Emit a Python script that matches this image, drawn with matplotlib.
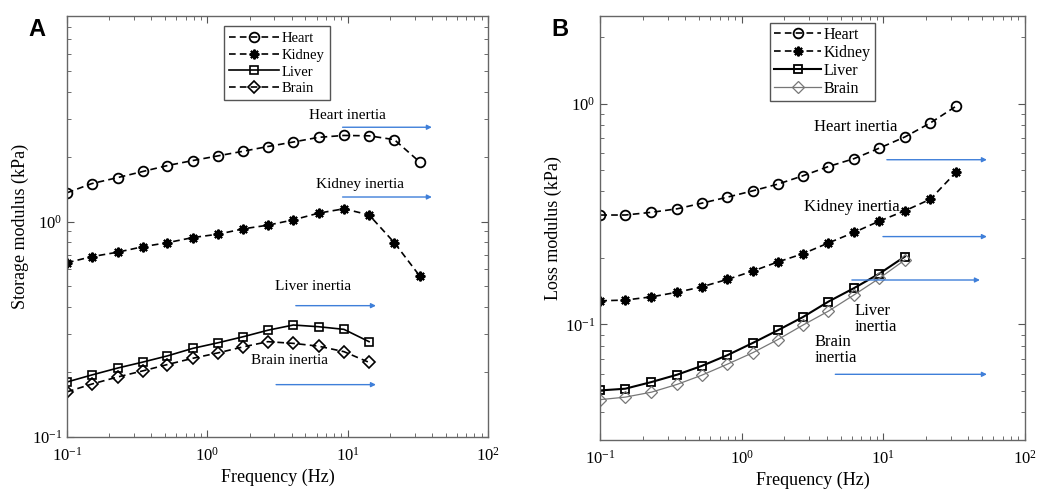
import matplotlib.pyplot as plt
from matplotlib.ticker import LogLocator, NullFormatter

plt.rcParams["font.family"] = ["Liberation Serif", "DejaVu Serif"]
plt.rcParams["mathtext.fontset"] = "stix"

freq = [0.1, 0.15, 0.23, 0.35, 0.52, 0.79, 1.2, 1.8, 2.7, 4.1, 6.2, 9.4, 14.2, 21.5, 32.6]

# storage modulus (kPa)
storage_heart = [1.36, 1.50, 1.60, 1.71, 1.82, 1.92, 2.02, 2.12, 2.23, 2.34, 2.46, 2.51, 2.50, 2.40, 1.89]
storage_kidney = [0.644, 0.687, 0.721, 0.765, 0.798, 0.843, 0.874, 0.925, 0.962, 1.018, 1.094, 1.146, 1.074, 0.798, 0.559]
storage_liver = [0.180, 0.194, 0.209, 0.223, 0.238, 0.258, 0.274, 0.292, 0.313, 0.331, 0.325, 0.316, 0.277]
storage_brain = [0.162, 0.176, 0.190, 0.203, 0.217, 0.232, 0.246, 0.262, 0.277, 0.272, 0.264, 0.249, 0.222]

# loss modulus (kPa)
loss_heart = [0.313, 0.313, 0.322, 0.334, 0.354, 0.377, 0.403, 0.432, 0.471, 0.519, 0.563, 0.629, 0.706, 0.817, 0.972]
loss_kidney = [0.128, 0.129, 0.1334, 0.140, 0.148, 0.160, 0.1746, 0.192, 0.209, 0.234, 0.261, 0.294, 0.327, 0.369, 0.488]
loss_liver = [0.0503, 0.0512, 0.0549, 0.0593, 0.0649, 0.0726, 0.0826, 0.0942, 0.108, 0.127, 0.146, 0.170, 0.203]
loss_brain = [0.0457, 0.0469, 0.0494, 0.0536, 0.0589, 0.0661, 0.0746, 0.0855, 0.0993, 0.115, 0.136, 0.162, 0.196]

organs = ["Heart", "Kidney", "Liver", "Brain"]

BLUE = "#3f7fd9"
DASH = (0, (4, 2.5))
AST = (8, 2, 0)


def style_axes(ax, ylim, ylabel):
    ax.set_xscale("log")
    ax.set_yscale("log")
    ax.set_xlim(0.1, 100)
    ax.set_ylim(*ylim)
    ax.set_xlabel("Frequency (Hz)", fontsize=13, labelpad=3)
    ax.set_ylabel(ylabel, fontsize=13, labelpad=2)
    ax.xaxis.set_minor_locator(LogLocator(base=10, subs=range(2, 10), numticks=20))
    ax.yaxis.set_minor_locator(LogLocator(base=10, subs=range(2, 10), numticks=20))
    ax.xaxis.set_minor_formatter(NullFormatter())
    ax.yaxis.set_minor_formatter(NullFormatter())
    ax.tick_params(which="both", direction="in", top=True, right=True,
                   colors="#555555", labelcolor="black", labelsize=12)
    ax.tick_params(which="major", length=5)
    ax.tick_params(which="minor", length=3)
    ax.tick_params(axis="x", which="major", pad=7)
    for s in ax.spines.values():
        s.set_color("#666666")
        s.set_linewidth(1.0)


def arrow(ax, x0, x1, y):
    ax.annotate("", xy=(x1, y), xytext=(x0, y),
                arrowprops=dict(arrowstyle="-|>", color=BLUE, lw=1, mutation_scale=7,
                                shrinkA=0, shrinkB=0))


fig = plt.figure(figsize=(10.37, 4.93), dpi=100)
axA = fig.add_axes([0.0646, 0.1136, 0.406, 0.854])
axB = fig.add_axes([0.5789, 0.1075, 0.4093, 0.8607])

# ---- panel A: storage modulus
n = len(storage_liver)
axA.plot(freq, storage_heart, color="black", ls=DASH, lw=1.2, marker="o", ms=7,
         mfc="none", mew=1.3, label=organs[0])
axA.plot(freq, storage_kidney, color="black", ls=DASH, lw=1.2, marker=AST, ms=7,
         mew=1.5, label=organs[1])
axA.plot(freq[:n], storage_liver, color="black", ls="-", lw=1.2, marker="s", ms=6,
         mfc="none", mew=1.2, label=organs[2])
axA.plot(freq[:n], storage_brain, color="black", ls=DASH, lw=1.2, marker="D", ms=6,
         mfc="none", mew=1.2, label=organs[3])
style_axes(axA, (0.1, 9), "Storage modulus (kPa)")
axA.legend(loc="upper center", bbox_to_anchor=(0.4985, 0.975), fontsize=10.5,
           handlelength=3.4, labelspacing=0.25, borderpad=0.35, handletextpad=0.2,
           borderaxespad=0, fancybox=False, edgecolor="#555555", framealpha=1)

arrow(axA, 9.2, 39.8, 2.74)
arrow(axA, 9.2, 39.8, 1.30)
arrow(axA, 4.27, 15.9, 0.407)
arrow(axA, 3.09, 15.9, 0.175)
axA.text(9.9, 3.11, "Heart inertia", fontsize=11, ha="center", va="center")
axA.text(12.2, 1.48, "Kidney inertia", fontsize=11, ha="center", va="center")
axA.text(5.64, 0.499, "Liver inertia", fontsize=11, ha="center", va="center")
axA.text(3.84, 0.226, "Brain inertia", fontsize=11, ha="center", va="center")

# ---- panel B: loss modulus
axB.plot(freq, loss_heart, color="black", ls=DASH, lw=1.2, marker="o", ms=7,
         mfc="none", mew=1.3, label=organs[0])
axB.plot(freq, loss_kidney, color="black", ls=DASH, lw=1.2, marker=AST, ms=7,
         mew=1.5, label=organs[1])
axB.plot(freq[:n], loss_liver, color="black", ls="-", lw=1.5, marker="s", ms=6,
         mfc="none", mew=1.3, label=organs[2])
axB.plot(freq[:n], loss_brain, color="#777777", ls="-", lw=0.9, marker="D", ms=6,
         mfc="none", mew=0.9, label=organs[3])
style_axes(axB, (0.03, 2.5), "Loss modulus (kPa)")
axB.legend(loc="upper center", bbox_to_anchor=(0.524, 0.983), fontsize=11.5,
           handlelength=2.9, labelspacing=0.12, borderpad=0.25, handletextpad=0.2,
           borderaxespad=0, fancybox=False, edgecolor="#555555", framealpha=1)

arrow(axB, 10.6, 54, 0.557)
arrow(axB, 9.95, 54, 0.25)
arrow(axB, 6.0, 48.2, 0.159)
arrow(axB, 4.58, 54, 0.0595)
axB.text(6.34, 0.78, "Heart inertia", fontsize=12, ha="center", va="center")
axB.text(6.0, 0.342, "Kidney inertia", fontsize=12, ha="center", va="center")
axB.text(6.24, 0.106, "Liver\ninertia", fontsize=12, ha="left", va="center",
         linespacing=1.0)
axB.text(3.29, 0.0768, "Brain\ninertia", fontsize=12, ha="left", va="center",
         linespacing=1.0)

fig.text(0.027, 0.94, "A", fontsize=17, fontweight="bold", family="Liberation Sans",
         va="center")
fig.text(0.532, 0.94, "B", fontsize=17, fontweight="bold", family="Liberation Sans",
         va="center")

fig.savefig("out.png", dpi=100)
